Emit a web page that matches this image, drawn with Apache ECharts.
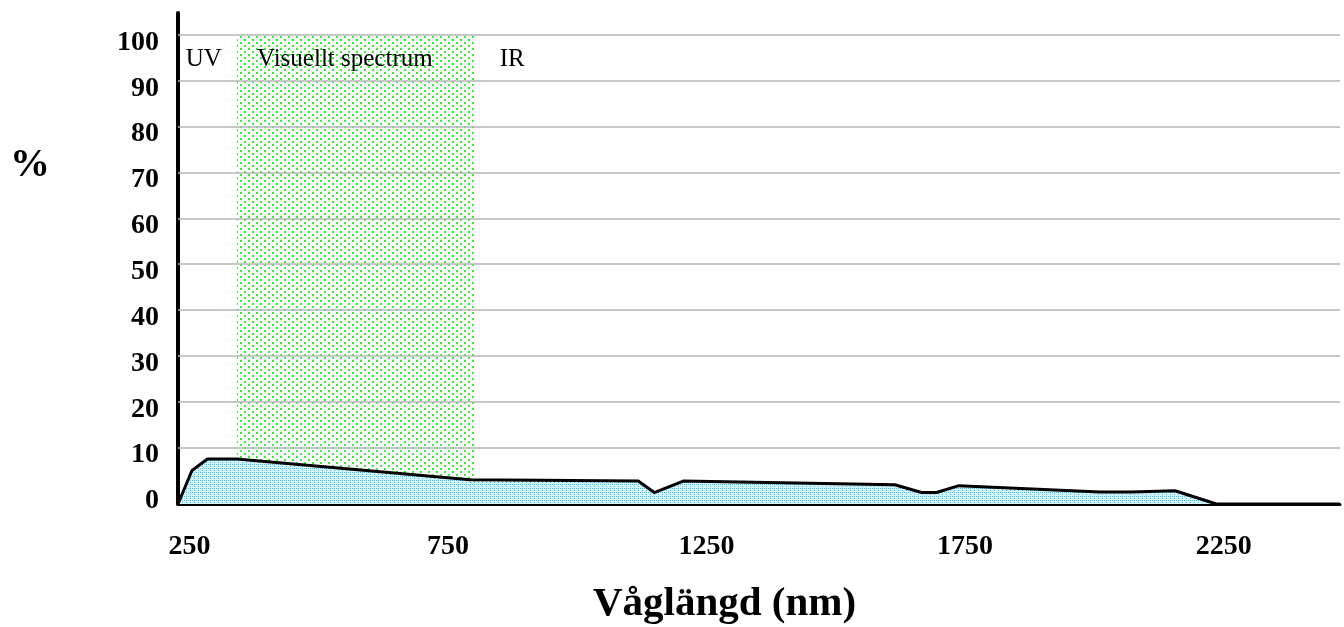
<!DOCTYPE html>
<html>
<head>
<meta charset="utf-8">
<script src="https://cdn.jsdelivr.net/npm/echarts@6/dist/echarts.min.js"></script>
<style>
html,body{margin:0;padding:0;background:#fff;}
#chart{width:1344px;height:627px;}
</style>
</head>
<body>
<div id="chart"></div>
<script>
// ---- data ----
const wavelengths = [228, 255, 285, 342, 793, 1118, 1149, 1205, 1614, 1666, 1695, 1738, 2011, 2072, 2156, 2236, 2475];
const percentValues = [-2.3, 5.0, 7.5, 7.5, 3.0, 2.7, 0.2, 2.7, 1.9, 0.2, 0.2, 1.7, 0.3, 0.3, 0.6, -2.3, -2.3];
const xTickLabels = [250, 750, 1250, 1750, 2250];
const yTickLabels = [0, 10, 20, 30, 40, 50, 60, 70, 80, 90, 100];
const yGridValues = [10, 20, 30, 40, 50, 60, 70, 80, 90, 100];
const visibleRange = [342, 804];
const regionLabels = [
  { text: 'UV', nm: 243 },
  { text: 'Visuellt spectrum', nm: 381 },
  { text: 'IR', nm: 850 }
];
const xMin = 228, xMax = 2475, yMin = -2.3, yMax = 104.8;

// ---- patterns ----
function makeTile(w, h, bg, dots, color) {
  const c = document.createElement('canvas');
  c.width = w; c.height = h;
  const g = c.getContext('2d');
  if (bg) { g.fillStyle = bg; g.fillRect(0, 0, w, h); }
  g.fillStyle = color;
  dots.forEach(d => g.fillRect(d[0], d[1], d[2] || 1, d[3] || 1));
  return c;
}
const blueTile = makeTile(4, 4, '#d4f3fd', [[0, 0], [2, 2], [2, 0]], '#3cc4f8');
const greenTile = makeTile(8, 6, '#ffffff', [[0, 0, 2, 2], [4, 3, 2, 2]], '#3cec3c');

const chart = echarts.init(document.getElementById('chart'), null, { renderer: 'canvas' });
const serif = '"Liberation Serif", "Times New Roman", serif';

const option = {
  animation: false,
  backgroundColor: '#ffffff',
  grid: { left: 178, right: 4, top: 13, bottom: 123, containLabel: false },
  xAxis: {
    type: 'value', min: xMin, max: xMax,
    axisLine: { show: true, onZero: false, lineStyle: { color: '#000', width: 3 } },
    axisTick: { show: false },
    splitLine: { show: false },
    axisLabel: {
      customValues: xTickLabels,
      formatter: v => String(v),
      color: '#000', fontFamily: serif, fontWeight: 'bold', fontSize: 28,
      margin: 29
    }
  },
  yAxis: {
    type: 'value', min: yMin, max: yMax,
    axisLine: { show: true, onZero: false, lineStyle: { color: '#000', width: 4 } },
    axisTick: { show: false },
    splitLine: { show: false },
    axisLabel: {
      customValues: yTickLabels,
      formatter: v => String(v),
      color: '#000', fontFamily: serif, fontWeight: 'bold', fontSize: 28,
      margin: 19, verticalAlign: 'top', lineHeight: 15
    }
  },
  series: [{
    type: 'line',
    data: wavelengths.map((w, i) => [w, percentValues[i]]),
    symbol: 'none',
    lineStyle: { color: '#000', width: 3 },
    areaStyle: { origin: 'start', color: { image: blueTile, repeat: 'repeat' }, opacity: 1 },
    z: 3,
    markArea: {
      silent: true,
      z: 1,
      itemStyle: { color: { image: greenTile, repeat: 'repeat' }, opacity: 1 },
      data: [[{ xAxis: visibleRange[0], yAxis: 100 }, { xAxis: visibleRange[1], yAxis: yMin }]]
    },
    markLine: {
      silent: true,
      symbol: 'none',
      z: 2,
      label: { show: false },
      lineStyle: { color: '#b4b4b4', width: 1.5, type: 'solid' },
      data: yGridValues.map(v => ({ yAxis: v }))
    }
  }],
  graphic: []
};
chart.setOption(option);

// text labels placed through the chart's own scale
const graphics = [];
regionLabels.forEach(r => {
  const p = chart.convertToPixel({ gridIndex: 0 }, [r.nm, 100]);
  graphics.push({
    type: 'text', left: p[0], top: 47, z: 20,
    style: { text: r.text, font: 'normal 25px ' + serif, fill: '#000' }
  });
});
graphics.push({
  type: 'text', left: 10, top: 146, z: 20,
  style: { text: '%', font: 'bold 40px ' + serif, fill: '#000' }
});
graphics.push({
  type: 'text', left: 593, top: 584, z: 20,
  style: { text: 'Våglängd (nm)', font: 'bold 41px ' + serif, fill: '#000' }
});
chart.setOption({ graphic: graphics });
</script>
</body>
</html>
